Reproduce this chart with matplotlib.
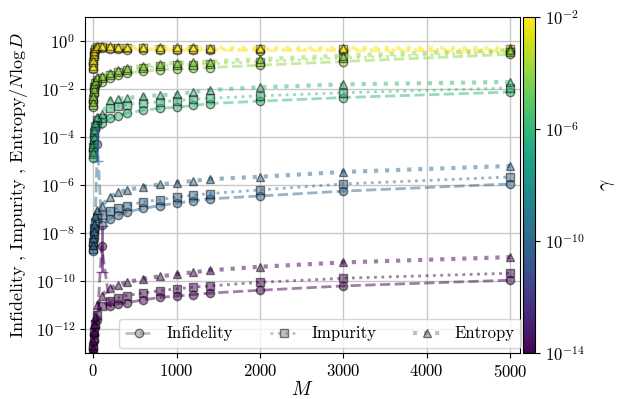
import matplotlib
matplotlib.use("Agg")
import matplotlib.pyplot as plt
import matplotlib.colors as mcolors
from matplotlib.lines import Line2D
import numpy as np

plt.rcParams['font.family'] = 'serif'
plt.rcParams['font.serif'] = ['cmr10']
plt.rcParams['mathtext.fontset'] = 'cm'
plt.rcParams['axes.formatter.use_mathtext'] = True
plt.rcParams['font.size'] = 12

# sample sizes
M = [1, 2, 5, 10, 20, 50, 100, 200, 300, 400, 600, 800, 1000, 1200, 1400, 2000, 3000, 5000]
gammas = [1e-2, 1e-4, 1e-6, 1e-10, 1e-14]

# log10 of the values
infid_g2 = [-1.15, -0.9, -0.65, -0.5, -0.38, -0.3, -0.3, -0.33, -0.34, -0.35, -0.36, -0.37, -0.37, -0.38, -0.38, -0.39, -0.4, -0.42]
impur_g2 = [-1.1, -0.85, -0.6, -0.45, -0.32, -0.25, -0.25, -0.28, -0.29, -0.3, -0.3, -0.31, -0.31, -0.32, -0.32, -0.33, -0.33, -0.34]
entr_g2 = [-1.05, -0.8, -0.55, -0.4, -0.28, -0.2, -0.2, -0.22, -0.23, -0.24, -0.25, -0.25, -0.26, -0.26, -0.27, -0.27, -0.28, -0.28]

infid_g4 = [-2.75, -2.5, -2.2, -2.0, -1.85, -1.75, -1.7, -1.53, -1.42, -1.33, -1.25, -1.2, -1.15, -1.13, -1.1, -1.0, -0.85, -0.55]
impur_g4 = [-2.65, -2.4, -2.1, -1.9, -1.75, -1.62, -1.55, -1.42, -1.3, -1.22, -1.12, -1.05, -1.0, -0.98, -0.95, -0.85, -0.7, -0.45]
entr_g4 = [-2.55, -2.3, -2.0, -1.8, -1.65, -1.5, -1.45, -1.32, -1.2, -1.12, -1.02, -0.95, -0.9, -0.88, -0.85, -0.75, -0.6, -0.38]

infid_g6 = [-4.85, -4.55, -4.25, -3.95, -3.7, -3.5, -3.4, -3.22, -3.1, -3.0, -2.88, -2.8, -2.75, -2.68, -2.6, -2.5, -2.35, -2.12]
impur_g6 = [-4.7, -4.4, -4.1, -3.8, -3.55, -3.3, -3.2, -2.8, -2.72, -2.65, -2.58, -2.52, -2.48, -2.42, -2.38, -2.28, -2.15, -1.95]
entr_g6 = [-4.6, -4.3, -4.0, -3.7, -3.4, -3.15, -3.05, -2.45, -2.4, -2.37, -2.3, -2.25, -2.22, -2.12, -2.04, -1.92, -1.8, -1.7]

infid_g10 = [-8.75, -8.5, -8.25, -8.0, -7.8, -4.3, -7.65, -7.4, -7.25, -7.12, -6.97, -6.85, -6.75, -6.65, -6.57, -6.45, -6.25, -5.95]
impur_g10 = [-8.65, -8.35, -8.05, -7.8, -7.55, -7.35, -7.25, -7.07, -6.95, -6.85, -6.7, -6.6, -6.5, -6.42, -6.35, -6.2, -5.95, -5.66]
entr_g10 = [-8.5, -8.2, -7.9, -7.6, -7.3, -7.05, -6.86, -6.5, -6.3, -6.2, -6.07, -5.97, -5.9, -5.82, -5.75, -5.65, -5.45, -5.2]

infid_g14 = [-13.1, -12.8, -12.5, -12.2, -11.9, -11.6, -8.55, -11.05, -10.95, -10.9, -10.78, -10.68, -10.62, -10.56, -10.5, -10.38, -10.2, -9.96]
impur_g14 = [-13.0, -12.7, -12.35, -12.1, -11.8, -11.4, -11.05, -10.83, -10.7, -10.6, -10.5, -10.4, -10.32, -10.25, -10.2, -10.05, -9.88, -9.67]
entr_g14 = [-12.8, -12.5, -12.1, -11.8, -11.5, -11.0, -10.6, -10.3, -10.15, -10.05, -9.9, -9.8, -9.72, -9.63, -9.55, -9.4, -9.22, -9.0]

# noisy infidelity points with visible error bars
err_gamma = [1e-10, 1e-14]
err_M = [50, 100]
err_lo = [-5.0, -9.6]
err_hi = [-3.6, -7.7]

infids = [infid_g2, infid_g4, infid_g6, infid_g10, infid_g14]
impurs = [impur_g2, impur_g4, impur_g6, impur_g10, impur_g14]
entrs = [entr_g2, entr_g4, entr_g6, entr_g10, entr_g14]

cmap = plt.get_cmap('viridis')
norm = mcolors.LogNorm(vmin=1e-14, vmax=1e-2)

fig = plt.figure(figsize=(6.2, 3.99), dpi=100)
ax = fig.add_axes([0.137, 0.115, 0.702, 0.842])
cax = fig.add_axes([0.844, 0.115, 0.019, 0.842])

for g, inf, imp, ent in zip(gammas, infids, impurs, entrs):
    c = cmap(norm(g))
    ax.plot(M, 10**np.array(inf), '--o', color=c, mec='k', alpha=0.5, lw=2, ms=6)
    ax.plot(M, 10**np.array(imp), ':s', color=c, mec='k', alpha=0.5, lw=2, ms=6)
    ax.plot(M, 10**np.array(ent), ':^', color=c, mec='k', alpha=0.5, lw=3, ms=6)

for g, m, lo, hi in zip(err_gamma, err_M, err_lo, err_hi):
    c = cmap(norm(g))
    center = 10**np.array(infids[gammas.index(g)])[M.index(m)]
    ax.errorbar([m], [center], yerr=[[center - 10**lo], [10**hi - center]],
                fmt='none', ecolor=c, alpha=0.6, capsize=4, lw=2)

ax.set_yscale('log')
ax.set_xlim(-100, 5120)
ax.set_ylim(1e-13, 1e1)
ax.set_yticks([10.0**k for k in range(-12, 1, 2)])
ax.yaxis.set_minor_locator(matplotlib.ticker.NullLocator())
ax.set_xticks([0, 1000, 2000, 3000, 4000, 5000])
ax.grid(True, color='#c8c8c8', lw=1)
ax.set_axisbelow(True)
ax.set_xlabel(r'$M$', fontsize=14, labelpad=1)
ax.set_ylabel(r'Infidelity , Impurity , Entropy$/N\log D$', fontsize=13)

handles = [
    Line2D([], [], ls='--', marker='o', color='gray', mec='k', alpha=0.5, lw=2, ms=6),
    Line2D([], [], ls=':', marker='s', color='gray', mec='k', alpha=0.5, lw=2, ms=6),
    Line2D([], [], ls=':', marker='^', color='gray', mec='k', alpha=0.5, lw=3, ms=6),
]
ax.legend(handles, ['Infidelity', 'Impurity', 'Entropy'], loc='lower center',
          bbox_to_anchor=(0.54, 0.0), ncol=3, fontsize=12, columnspacing=2.2,
          handlelength=1.7, handletextpad=0.8, borderaxespad=0.3)

sm = plt.cm.ScalarMappable(norm=norm, cmap=cmap)
cb = fig.colorbar(sm, cax=cax)
cb.set_ticks([1e-14, 1e-10, 1e-6, 1e-2])
cb.minorticks_off()
cb.set_label(r'$\gamma$', fontsize=14, labelpad=10)

fig.savefig('out.png', dpi=100)
